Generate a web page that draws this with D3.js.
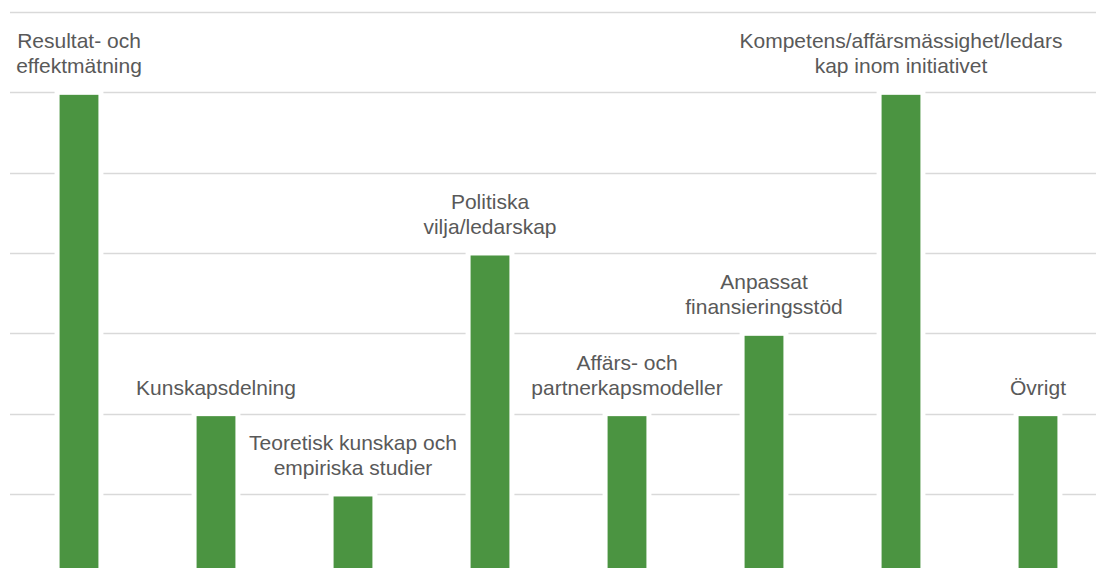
<!DOCTYPE html>
<html><head><meta charset="utf-8">
<script src="https://cdn.jsdelivr.net/npm/d3@7"></script>
<style>html,body{margin:0;padding:0;background:#fff;overflow:hidden}</style>
</head><body>
<svg id="chart" width="1096" height="568"></svg>
<script>
const categories = [
  ["Resultat- och", "effektmätning"],
  ["Kunskapsdelning"],
  ["Teoretisk kunskap och", "empiriska studier"],
  ["Politiska", "vilja/ledarskap"],
  ["Affärs- och", "partnerkapsmodeller"],
  ["Anpassat", "finansieringsstöd"],
  ["Kompetens/affärsmässighet/ledars", "kap inom initiativet"],
  ["Övrigt"]
];
const values = [6, 2, 1, 4, 2, 3, 6, 2];
const yTicks = [0, 1, 2, 3, 4, 5, 6, 7];

const svg = d3.select("#chart");
const W = 1096;
const keys = categories.map((c, i) => i);
const x = d3.scaleBand().domain(keys).range([10.5, 1106.5]).paddingInner(0.68).paddingOuter(0.34);
const y = d3.scaleLinear().domain([0, 7]).range([574.3, 12]);

// gridlines
svg.append("g").selectAll("line").data(yTicks).join("line")
  .attr("x1", 10).attr("x2", W)
  .attr("y1", d => Math.round(y(d)) + 0.5).attr("y2", d => Math.round(y(d)) + 0.5)
  .attr("stroke", "#d9d9d9").attr("stroke-width", 1.6);

// bars
svg.append("g").selectAll("rect").data(values).join("rect")
  .attr("x", (d, i) => x(i))
  .attr("width", x.bandwidth())
  .attr("y", d => y(d))
  .attr("height", d => y(0) - y(d))
  .attr("fill", "#4b9441")
  .attr("stroke", "#ffffff")
  .attr("stroke-width", 5);

// labels
const lineH = 25;
const lab = svg.append("g")
  .attr("font-family", "'Liberation Sans', Arial, sans-serif")
  .attr("font-size", 21)
  .attr("fill", "#595959")
  .attr("text-anchor", "middle");
categories.forEach((lines, i) => {
  const cx = x(i) + x.bandwidth() / 2;
  const lastBase = y(values[i]) - 19;
  const t = lab.append("text");
  lines.forEach((ln, j) => {
    t.append("tspan").attr("x", cx)
      .attr("y", lastBase - (lines.length - 1 - j) * lineH)
      .text(ln);
  });
});
</script>
</body></html>
